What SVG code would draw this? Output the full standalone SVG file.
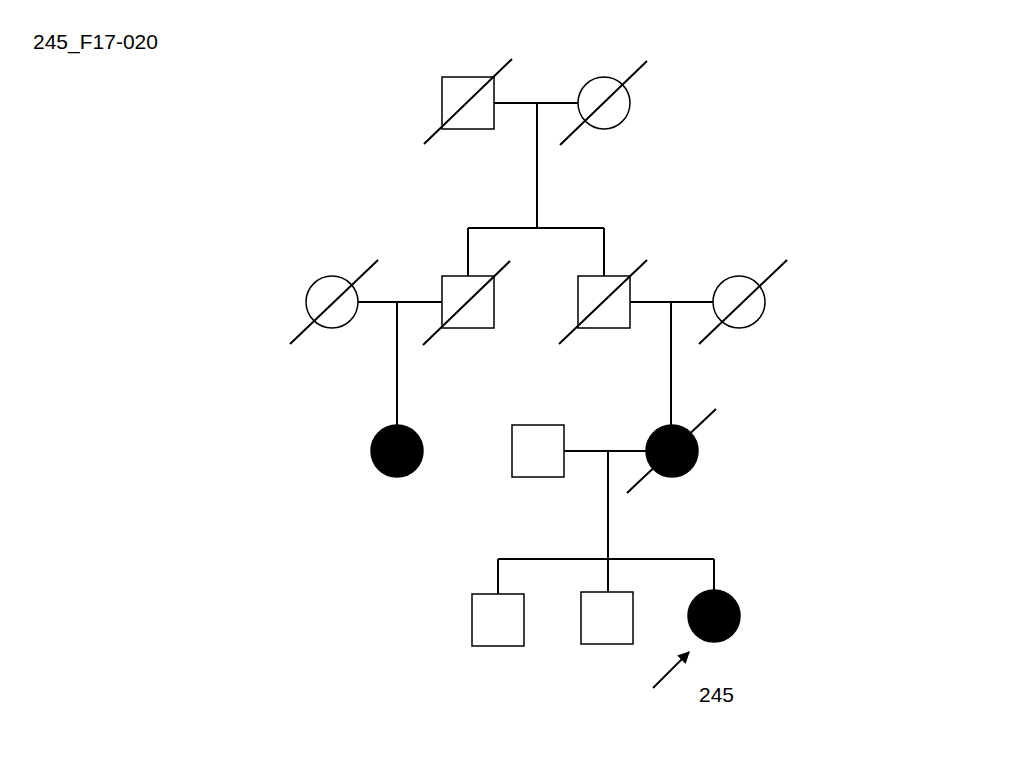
<svg xmlns="http://www.w3.org/2000/svg" width="1024" height="768" viewBox="0 0 1024 768">
<style>
.s{fill:#fff;stroke:#000;stroke-width:1.5}
.a{fill:#000;stroke:#000;stroke-width:1.5}
.l{stroke:#000;stroke-width:2;fill:none}
text{font-family:"Liberation Sans",Arial,sans-serif;font-size:21px;fill:#000}
</style>
<defs><marker id="ah" viewBox="0 0 10 10" refX="9" refY="5" markerWidth="6" markerHeight="6" orient="auto"><path d="M0,0L10,5L0,10z" fill="#000"/></marker></defs>
<rect width="1024" height="768" fill="#fff"/>
<text x="33" y="49">245_F17-020</text>
<g id="connectors" class="l">
<path d="M494,103H578M537,103V228M468,228H604M468,228V276M604,228V276"/>
<path d="M358,302H442M397,302V425M630,302H713M671,302V425"/>
<path d="M564,451H646M608,451V559M498,559H714M498,559V594M608,559V592M714,559V590"/>
<line x1="653" y1="688" x2="689" y2="652" marker-end="url(#ah)"/>
</g>
<g id="gf"><rect class="s" x="442" y="77" width="52" height="52"/><line class="l" x1="424" y1="144" x2="512" y2="59"/></g>
<g id="gm"><circle class="s" cx="604" cy="103" r="26"/><line class="l" x1="560" y1="145" x2="647" y2="61"/></g>
<g id="w1"><circle class="s" cx="332" cy="302" r="26"/><line class="l" x1="290" y1="344" x2="378" y2="260"/></g>
<g id="s1"><rect class="s" x="442" y="276" width="52" height="52"/><line class="l" x1="423" y1="345" x2="510" y2="261"/></g>
<g id="s2"><rect class="s" x="578" y="276" width="52" height="52"/><line class="l" x1="559" y1="344" x2="647" y2="260"/></g>
<g id="w2"><circle class="s" cx="739" cy="302" r="26"/><line class="l" x1="699" y1="344" x2="787" y2="260"/></g>
<g id="c1"><circle class="a" cx="397" cy="451" r="26"/></g>
<g id="h"><rect class="s" x="512" y="425" width="52" height="52"/></g>
<g id="m"><circle class="a" cx="672" cy="451" r="26"/><line class="l" x1="627" y1="493" x2="716" y2="409"/></g>
<g id="k1"><rect class="s" x="472" y="594" width="52" height="52"/></g>
<g id="k2"><rect class="s" x="581" y="592" width="52" height="52"/></g>
<g id="p"><circle class="a" cx="714" cy="616" r="26"/></g>
<text x="699" y="702">245</text>
</svg>
